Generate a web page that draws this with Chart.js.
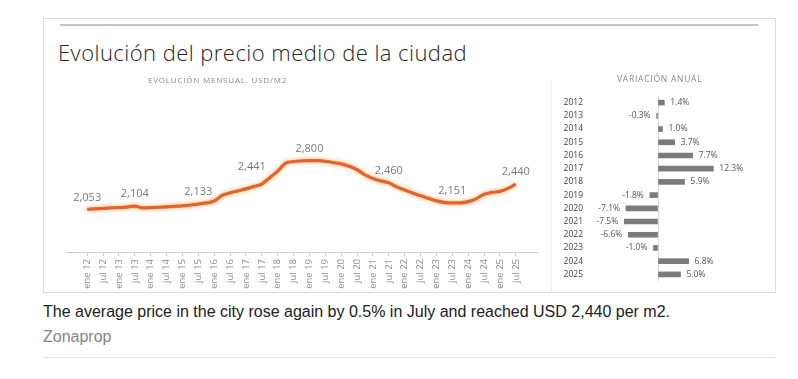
<!DOCTYPE html>
<html>
<head>
<meta charset="utf-8">
<script src="https://cdn.jsdelivr.net/npm/chart.js@4/dist/chart.umd.min.js"></script>
<style>
  html, body { margin:0; padding:0; background:#fff; width:798px; height:379px; overflow:hidden; }
  .abs { position:absolute; }
  #card { left:43px; top:18px; width:731px; height:273px; border:1px solid #dcdcdc; }
  #topline { left:60px; top:24px; width:698px; height:2px; background:#c4c4c4; }
  #title { left:58px; top:40px; font-family:"Open Sans", sans-serif; font-weight:300; font-size:22px; line-height:24px; letter-spacing:0.45px; color:#262626; white-space:nowrap; }
  #sub1 { left:148px; top:75px; font-family:"Open Sans", sans-serif; font-size:8px; line-height:10px; letter-spacing:0.8px; color:#888888; white-space:nowrap; will-change:transform; -webkit-font-smoothing:antialiased; }
  #sub2 { left:617px; top:73px; font-family:"Open Sans", sans-serif; font-size:8.5px; line-height:11px; letter-spacing:0.75px; color:#888888; white-space:nowrap; will-change:transform; -webkit-font-smoothing:antialiased; }
  #sep { left:551px; top:80px; width:1px; height:212px; background:#eeeeee; }
  #caption { left:43px; top:302px; font-family:"Liberation Sans", Arial, sans-serif; font-size:16px; line-height:20px; color:#202124; white-space:nowrap; }
  #source { left:43px; top:327px; font-family:"Liberation Sans", Arial, sans-serif; font-size:16px; line-height:20px; color:#858585; white-space:nowrap; }
  #rule { left:43px; top:357px; width:732px; height:1px; background:#e4e4e4; }
  #lineCanvas { left:43px; top:100px; }
  #barCanvas { left:552px; top:85px; }
</style>
</head>
<body>
<div id="card" class="abs"></div>
<div id="topline" class="abs"></div>
<div id="title" class="abs">Evolución del precio medio de la ciudad</div>
<div id="sub1" class="abs">EVOLUCIÓN MENSUAL. USD/M2</div>
<div id="sub2" class="abs">VARIACIÓN ANUAL</div>
<div id="sep" class="abs"></div>
<canvas id="lineCanvas" class="abs" width="500" height="192"></canvas>
<canvas id="barCanvas" class="abs" width="223" height="207"></canvas>
<div id="caption" class="abs">The average price in the city rose again by 0.5% in July and reached USD 2,440 per m2.</div>
<div id="source" class="abs">Zonaprop</div>
<div id="rule" class="abs"></div>

<script>
// ---- Data: monthly price series (sampled every 3 months, month 0 = ene 12) ----
const months = [0,3,6,9,12,15,18,21,24,27,30,33,36,39,42,45,48,51,54,57,60,63,66,69,72,75,78,81,84,87,90,93,96,99,102,105,108,111,114,117,120,123,126,129,132,135,138,141,144,147,150,153,156,159,162];
const prices = [2053,2061,2068,2076,2079,2088,2104,2075,2079,2085,2091,2099,2105,2120,2133,2152,2180,2267,2305,2336,2367,2405,2441,2538,2639,2760,2785,2795,2800,2798,2788,2770,2750,2712,2660,2581,2527,2489,2460,2397,2351,2305,2260,2221,2183,2160,2151,2152,2171,2214,2283,2313,2328,2374,2440];
const labeledMonths = [0,18,42,66,84,114,138,162];
const tickLabels = ["ene 12","jul 12","ene 13","jul 13","ene 14","jul 14","ene 15","jul 15","ene 16","jul 16","ene 17","jul 17","ene 18","jul 18","ene 19","jul 19","ene 20","jul 20","ene 21","jul 21","ene 22","jul 22","ene 23","jul 23","ene 24","jul 24","ene 25","jul 25"];

// ---- Data: annual variation ----
const years = ["2012","2013","2014","2015","2016","2017","2018","2019","2020","2021","2022","2023","2024","2025"];
const variation = [1.4,-0.3,1.0,3.7,7.7,12.3,5.9,-1.8,-7.1,-7.5,-6.6,-1.0,6.8,5.0];

const FONT = "'Open Sans', sans-serif";
// label placement style (pixel offsets of value labels relative to their point)
const labelStyle = { dy: -12, steep: { month: 66, dx: -10, dy: -17 } };

const lineDeco = {
  id: 'lineDeco',
  beforeDatasetDraw(chart) {
    const c = chart.ctx;
    c.save();
    c.shadowColor = 'rgba(255,165,90,0.9)';
    c.shadowBlur = 4;
  },
  afterDatasetDraw(chart) { chart.ctx.restore(); },
  afterDatasetsDraw(chart) {
    const c = chart.ctx;
    const xs = chart.scales.x, ys = chart.scales.y;
    c.save();
    c.font = "11px " + FONT;
    c.fillStyle = '#7a7a7a';
    c.textAlign = 'center';
    c.textBaseline = 'middle';
    labeledMonths.forEach(m => {
      const i = months.indexOf(m);
      const v = prices[i];
      let dx = 0, dy = labelStyle.dy;
      if (m === labelStyle.steep.month) { dx = labelStyle.steep.dx; dy = labelStyle.steep.dy; }
      c.fillText(v.toLocaleString('en-US'), xs.getPixelForValue(m) + dx, ys.getPixelForValue(v) + dy);
    });
    c.restore();
  }
};

new Chart(document.getElementById('lineCanvas'), {
  type: 'line',
  data: {
    datasets: [{
      data: months.map((m, i) => ({ x: m, y: prices[i] })),
      borderColor: '#e3632a',
      borderWidth: 3.2,
      pointRadius: 0,
      cubicInterpolationMode: 'monotone',
      fill: false
    }]
  },
  options: {
    responsive: false,
    animation: false,
    layout: { padding: { left: 23, right: 6, top: 41, bottom: 0 } },
    plugins: { legend: { display: false }, tooltip: { enabled: false } },
    scales: {
      x: {
        type: 'linear',
        min: -8, max: 170,
        afterBuildTicks: s => { s.ticks = tickLabels.map((t, i) => ({ value: i * 6 })); },
        afterFit: s => { s.height = 40; },
        ticks: {
          autoSkip: false, minRotation: 90, maxRotation: 90, padding: 3,
          font: { family: FONT, size: 9.5 }, color: '#8e8e8e',
          callback: (v, i) => tickLabels[i]
        },
        grid: { drawOnChartArea: false, drawTicks: true, tickLength: 4, color: '#cfcfcf' },
        border: { display: true, color: '#cfcfcf' }
      },
      y: { display: false, min: 1400, max: 3100 }
    }
  },
  plugins: [lineDeco]
});

const barLabels = {
  id: 'barLabels',
  afterDatasetsDraw(chart) {
    const c = chart.ctx;
    const meta = chart.getDatasetMeta(0);
    c.save();
    c.font = "8.5px " + FONT;
    c.fillStyle = '#555';
    c.textBaseline = 'middle';
    meta.data.forEach((bar, i) => {
      const v = variation[i];
      const txt = v.toFixed(1) + '%';
      if (v >= 0) { c.textAlign = 'left'; c.fillText(txt, bar.x + 6, bar.y); }
      else { c.textAlign = 'right'; c.fillText(txt, bar.x - 6, bar.y); }
    });
    c.restore();
  }
};

new Chart(document.getElementById('barCanvas'), {
  type: 'bar',
  data: {
    labels: years,
    datasets: [{ data: variation, backgroundColor: '#7b7b7b', barThickness: 5 }]
  },
  options: {
    indexAxis: 'y',
    responsive: false,
    animation: false,
    layout: { padding: { left: 0, right: 54, top: 11, bottom: 11 } },
    plugins: { legend: { display: false }, tooltip: { enabled: false } },
    scales: {
      x: {
        min: -14, max: 14,
        ticks: { display: false, stepSize: 7 },
        afterFit: s => { s.height = 0; },
        grid: { drawTicks: false, color: ctx => (ctx.tick && ctx.tick.value === 0) ? '#d6d6d6' : 'rgba(0,0,0,0)' },
        border: { display: false }
      },
      y: {
        afterFit: s => { s.width = 43; },
        grid: { display: false },
        border: { display: false },
        ticks: { padding: 4, font: { family: FONT, size: 8.5 }, color: '#444' }
      }
    }
  },
  plugins: [barLabels]
});
</script>
</body>
</html>
